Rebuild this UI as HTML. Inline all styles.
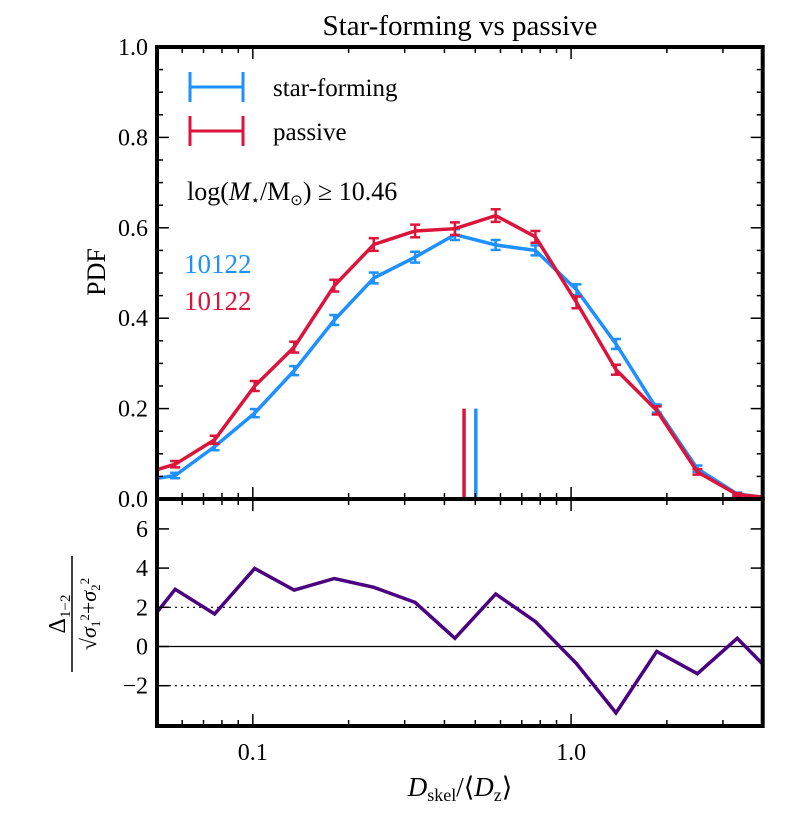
<!DOCTYPE html>
<html><head><meta charset="utf-8">
<style>
html,body{margin:0;padding:0;background:#fff;}
svg{display:block;font-family:"Liberation Serif",serif;}
</style></head>
<body>
<svg id="chart" width="792" height="813" viewBox="0 0 792 813" xmlns="http://www.w3.org/2000/svg"></svg>
<script>
const logX = [-1.37,-1.244,-1.12,-0.994,-0.87,-0.744,-0.62,-0.49,-0.365,-0.237,-0.112,0.017,0.141,0.269,0.397,0.522,0.645];
const sfPdf = [0.038,0.052,0.116,0.19,0.284,0.396,0.489,0.535,0.585,0.562,0.55,0.463,0.343,0.2,0.067,0.011,0.0];
const sfErr = [0.006,0.006,0.008,0.009,0.01,0.011,0.012,0.012,0.012,0.011,0.011,0.012,0.011,0.009,0.007,0.003,0.002];
const pPdf = [0.05,0.077,0.131,0.25,0.336,0.472,0.563,0.593,0.598,0.627,0.58,0.435,0.286,0.196,0.06,0.01,0.001];
const pErr = [0.006,0.007,0.009,0.011,0.012,0.013,0.014,0.014,0.014,0.014,0.013,0.013,0.011,0.009,0.006,0.003,0.002];
const delta = [0.34,2.92,1.66,3.98,2.88,3.47,3.02,2.25,0.42,2.68,1.27,-0.88,-3.39,-0.25,-1.39,0.42,-1.6];
const medians = [0.502,0.461];
const topTicks = ["0.0","0.2","0.4","0.6","0.8","1.0"];
const botTicks = ["\u22122","0","2","4","6"];
const xTickLabels = ["0.1","1.0"];

const NS="http://www.w3.org/2000/svg";
const svg=document.getElementById('chart');
const L=157,R=762.7,T=47,B0=499,B1=726;
const xmin=Math.log10(0.05),xmax=Math.log10(4.0);
const X=lx=>L+(lx-xmin)/(xmax-xmin)*(R-L);
const Y1=v=>B0-v*(B0-T);
const y0b=646.5,ub=19.6;
const Y2=v=>y0b-v*ub;
function el(tag,attrs,parent){const e=document.createElementNS(NS,tag);for(const k in attrs)e.setAttribute(k,attrs[k]);(parent||svg).appendChild(e);return e;}

const defs=el('defs',{});
const c1=el('clipPath',{id:'c1'},defs);el('rect',{x:L,y:T,width:R-L,height:B0-T},c1);
const c2=el('clipPath',{id:'c2'},defs);el('rect',{x:L,y:B0,width:R-L,height:B1-B0},c2);

const title=el('text',{x:460,y:35,'font-size':29,'text-anchor':'middle'});title.textContent='Star-forming vs passive';



const gTop=el('g',{'clip-path':'url(#c1)'});


function series(vals,errs,color,name){
  const pts=vals.map((v,i)=>X(logX[i]).toFixed(1)+','+Y1(v).toFixed(1)).join(' ');
  const pl=el('polyline',{points:pts,fill:'none',stroke:color,'stroke-width':3.5,'stroke-linejoin':'miter'},gTop);
  
  
  vals.forEach((v,i)=>{
    const x=X(logX[i]),ya=Y1(v+errs[i]),yb=Y1(v-errs[i]);
    const g=el('g',{stroke:color,'stroke-width':2.5},gTop);
    
    
    el('line',{x1:x,y1:ya,x2:x,y2:yb},g);
    el('line',{x1:x-5,y1:ya,x2:x+5,y2:ya},g);
    el('line',{x1:x-5,y1:yb,x2:x+5,y2:yb},g);
  });
}
series(sfPdf,sfErr,'#1e90ff','star-forming');
series(pPdf,pErr,'#dc143c','passive');
const medColors=['#1e90ff','#dc143c'];
medians.forEach((m,i)=>{
  const ln=el('line',{x1:X(Math.log10(m)),x2:X(Math.log10(m)),y1:Y1(0),y2:Y1(0.2),stroke:medColors[i],'stroke-width':3.5},gTop);
  
  
});

const gBot=el('g',{'clip-path':'url(#c2)'});


el('line',{x1:L,x2:R,y1:Y2(0),y2:Y2(0),stroke:'#000','stroke-width':1.2},gBot);
[2,-2].forEach(v=>el('line',{x1:L,x2:R,y1:Y2(v),y2:Y2(v),stroke:'#000','stroke-width':1.2,'stroke-dasharray':'2,4'},gBot));
const dl=el('polyline',{points:delta.map((v,i)=>X(logX[i]).toFixed(1)+','+Y2(v).toFixed(1)).join(' '),fill:'none',stroke:'#4b0082','stroke-width':3.5},gBot);



const tk=el('g',{stroke:'#000','stroke-width':1.5});


const xMajors=[0.1,1.0];
const xMinors=[0.06,0.07,0.08,0.09,0.2,0.3,0.4,0.5,0.6,0.7,0.8,0.9,2,3,4];
[[T,B0],[B0,B1]].forEach(([top,bot])=>{
  xMajors.forEach(v=>{const x=X(Math.log10(v));el('line',{x1:x,x2:x,y1:top,y2:top+12},tk);el('line',{x1:x,x2:x,y1:bot,y2:bot-12},tk);});
  xMinors.forEach(v=>{const x=X(Math.log10(v));el('line',{x1:x,x2:x,y1:top,y2:top+6},tk);el('line',{x1:x,x2:x,y1:bot,y2:bot-6},tk);});
});
for(let i=0;i<=20;i++){const v=i*0.05,y=Y1(v),len=(i%4===0)?12:6;
  el('line',{x1:L,x2:L+len,y1:y,y2:y},tk);el('line',{x1:R,x2:R-len,y1:y,y2:y},tk);}
[-2,0,2,4,6].forEach(v=>{const y=Y2(v);el('line',{x1:L,x2:L+12,y1:y,y2:y},tk);el('line',{x1:R,x2:R-12,y1:y,y2:y},tk);});

const fr=el('g',{fill:'none',stroke:'#000','stroke-width':4});


el('rect',{x:L,y:T,width:R-L,height:B0-T},fr);
el('rect',{x:L,y:B0,width:R-L,height:B1-B0},fr);

topTicks.forEach((t,i)=>{const e=el('text',{x:148,y:Y1(i*0.2)+8,'font-size':24,'text-anchor':'end'});e.textContent=t;
  
  });
botTicks.forEach((t,i)=>{const e=el('text',{x:148,y:Y2(-2+i*2)+8,'font-size':24,'text-anchor':'end'});e.textContent=t;
  
  });
xTickLabels.forEach(t=>{const e=el('text',{x:X(Math.log10(parseFloat(t))),y:760,'font-size':24,'text-anchor':'middle'});e.textContent=t;
  
  });
</script>
<svg style="position:absolute;left:0;top:0" width="792" height="813" xmlns="http://www.w3.org/2000/svg">
  <g font-family="Liberation Serif, serif">
    <g>
      <g stroke="#1e90ff" stroke-width="3">
        <line x1="190" y1="87" x2="243" y2="87"/><line x1="190" y1="72" x2="190" y2="102"/><line x1="243" y1="72" x2="243" y2="102"/>
      </g>
      <text x="273" y="96" font-size="25">star-forming</text>
      <g stroke="#dc143c" stroke-width="3">
        <line x1="190" y1="131" x2="243" y2="131"/><line x1="190" y1="116" x2="190" y2="146"/><line x1="243" y1="116" x2="243" y2="146"/>
      </g>
      <text x="273" y="140" font-size="25">passive</text>
    </g>
    <text x="187" y="200" font-size="26">log(<tspan font-style="italic">M</tspan><tspan font-size="15" dy="5">⋆</tspan><tspan dy="-5">/M</tspan><tspan font-size="15" dy="5">⊙</tspan><tspan dy="-5">) ≥ 10.46</tspan></text>
    <text x="184" y="273" font-size="27" fill="#1e90ff">10122</text>
    <text x="184" y="310" font-size="27" fill="#dc143c">10122</text>
    <text transform="translate(105,272) rotate(-90)" font-size="26" text-anchor="middle">PDF</text>
    <g transform="translate(72,614) rotate(-90)">
      <text x="0" y="-7" font-size="24" text-anchor="middle">Δ<tspan font-size="15" dy="5">1−2</tspan></text>
      <line x1="-58" y1="0" x2="58" y2="0" stroke="#000" stroke-width="1.5"/>
      <text x="0" y="24" font-size="22" text-anchor="middle">√<tspan font-style="italic">σ</tspan><tspan font-size="13" dy="4">1</tspan><tspan font-size="13" dy="-11">2</tspan><tspan dy="7">+</tspan><tspan font-style="italic">σ</tspan><tspan font-size="13" dy="4">2</tspan><tspan font-size="13" dy="-11">2</tspan></text>
    </g>
    <text x="460" y="796" font-size="27" text-anchor="middle"><tspan font-style="italic">D</tspan><tspan font-size="18" dy="5">skel</tspan><tspan dy="-5">/⟨</tspan><tspan font-style="italic">D</tspan><tspan font-size="18" dy="5">z</tspan><tspan dy="-5">⟩</tspan></text>
  </g>
</svg>
</body></html>
